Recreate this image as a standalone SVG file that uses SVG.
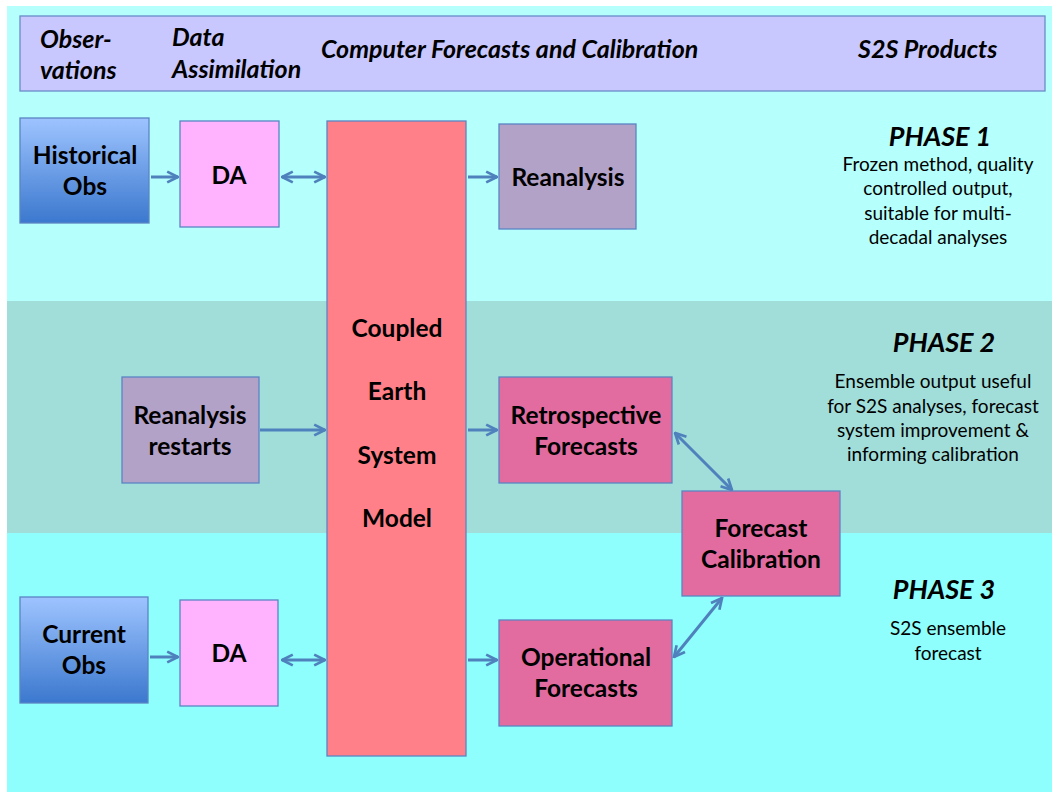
<svg xmlns="http://www.w3.org/2000/svg" width="1052" height="792" viewBox="0 0 1052 792">
<style>
.bx{stroke:#5B84C4;stroke-width:1.3}
.t{font-family:Lato,"Liberation Sans",sans-serif;font-weight:bold;font-size:24.5px;fill:#000;text-anchor:middle}
.h{font-family:Lato,"Liberation Sans",sans-serif;font-weight:bold;font-style:italic;font-size:25px;fill:#000}
.ph{font-family:Lato,"Liberation Sans",sans-serif;font-weight:bold;font-style:italic;font-size:27px;fill:#000;text-anchor:middle}
.d{font-family:Lato,"Liberation Sans",sans-serif;font-size:19px;fill:#000;text-anchor:middle}
.c{stroke:#4F81BD;stroke-width:3;fill:none}
</style>
<defs>
<linearGradient id="obs" x1="0" y1="0" x2="0" y2="1">
<stop offset="0" stop-color="#9EC4FF"/>
<stop offset="1" stop-color="#3B78CE"/>
</linearGradient>
<marker id="ah" viewBox="0 0 10 10" refX="9" refY="5" markerWidth="4.5" markerHeight="4.5" orient="auto-start-reverse" markerUnits="strokeWidth">
<path d="M1,1 L9,5 L1,9" fill="none" stroke="#4F81BD" stroke-width="2"/>
</marker>
</defs>
<rect x="0" y="0" width="1052" height="792" fill="#ffffff"/>
<rect x="7" y="6" width="1045" height="295" fill="#B5FFFC"/>
<rect x="7" y="301" width="1045" height="232" fill="#A1DEDA"/>
<rect x="7" y="533" width="1045" height="259" fill="#8EFFFC"/>

<g id="header">
<rect x="20" y="16" width="1025" height="75" fill="#C8C8FF" stroke="#6A8CC8" stroke-width="1.3"/>
<text class="h" x="40" y="48">Obser-</text>
<text class="h" x="40" y="79">vations</text>
<text class="h" x="172" y="46">Data</text>
<text class="h" x="172" y="78">Assimilation</text>
<text class="h" x="321" y="58">Computer Forecasts and Calibration</text>
<text class="h" x="858" y="58">S2S Products</text>
</g>

<g id="connectors">
<line class="c" x1="151" y1="177" x2="178" y2="177" marker-end="url(#ah)"/>
<line class="c" x1="282" y1="177" x2="325" y2="177" marker-start="url(#ah)" marker-end="url(#ah)"/>
<line class="c" x1="468" y1="177" x2="497" y2="177" marker-end="url(#ah)"/>
<line class="c" x1="260" y1="430" x2="325" y2="430" marker-end="url(#ah)"/>
<line class="c" x1="468" y1="430" x2="497" y2="430" marker-end="url(#ah)"/>
<line class="c" x1="675" y1="433" x2="732" y2="490" marker-start="url(#ah)" marker-end="url(#ah)"/>
<line class="c" x1="722" y1="598" x2="674" y2="657" marker-start="url(#ah)" marker-end="url(#ah)"/>
<line class="c" x1="150" y1="657" x2="178" y2="657" marker-end="url(#ah)"/>
<line class="c" x1="282" y1="660" x2="325" y2="660" marker-start="url(#ah)" marker-end="url(#ah)"/>
<line class="c" x1="468" y1="660" x2="497" y2="660" marker-end="url(#ah)"/>
</g>

<g id="historical-obs">
<rect class="bx" x="20" y="118" width="129" height="105" fill="url(#obs)"/>
<text class="t" x="85" y="164">Historical</text>
<text class="t" x="85" y="195">Obs</text>
</g>
<g id="da-1">
<rect class="bx" x="180" y="121" width="99" height="106" fill="#FFB3FF"/>
<text class="t" x="229" y="184">DA</text>
</g>
<g id="model">
<rect class="bx" x="327" y="121" width="139" height="635" fill="#FF8088"/>
<text class="t" x="397" y="337">Coupled</text>
<text class="t" x="397" y="400">Earth</text>
<text class="t" x="397" y="464">System</text>
<text class="t" x="397" y="527">Model</text>
</g>
<g id="reanalysis">
<rect class="bx" x="499" y="124" width="137" height="105" fill="#B3A2C8"/>
<text class="t" x="568" y="186">Reanalysis</text>
</g>
<g id="reanalysis-restarts">
<rect class="bx" x="122" y="377" width="137" height="106" fill="#B3A2C8"/>
<text class="t" x="190" y="424">Reanalysis</text>
<text class="t" x="190" y="455">restarts</text>
</g>
<g id="retrospective-forecasts">
<rect class="bx" x="499" y="377" width="173" height="106" fill="#E26C9F"/>
<text class="t" x="586" y="424">Retrospective</text>
<text class="t" x="586" y="455">Forecasts</text>
</g>
<g id="forecast-calibration">
<rect class="bx" x="682" y="491" width="158" height="105" fill="#E26C9F"/>
<text class="t" x="761" y="537">Forecast</text>
<text class="t" x="761" y="568">Calibration</text>
</g>
<g id="current-obs">
<rect class="bx" x="20" y="597" width="128" height="106" fill="url(#obs)"/>
<text class="t" x="84" y="643">Current</text>
<text class="t" x="84" y="674">Obs</text>
</g>
<g id="da-2">
<rect class="bx" x="180" y="600" width="98" height="106" fill="#FFB3FF"/>
<text class="t" x="229" y="662">DA</text>
</g>
<g id="operational-forecasts">
<rect class="bx" x="499" y="620" width="173" height="106" fill="#E26C9F"/>
<text class="t" x="586" y="666">Operational</text>
<text class="t" x="586" y="697">Forecasts</text>
</g>

<g id="phase-1">
<text class="ph" x="940" y="146">PHASE 1</text>
<text class="d" x="938" y="171">Frozen method, quality</text>
<text class="d" x="938" y="195">controlled output,</text>
<text class="d" x="938" y="220">suitable for multi-</text>
<text class="d" x="938" y="244">decadal analyses</text>
</g>
<g id="phase-2">
<text class="ph" x="944" y="352">PHASE 2</text>
<text class="d" x="933" y="388">Ensemble output useful</text>
<text class="d" x="933" y="413">for S2S analyses, forecast</text>
<text class="d" x="933" y="437">system improvement &amp;</text>
<text class="d" x="933" y="461">informing calibration</text>
</g>
<g id="phase-3">
<text class="ph" x="944" y="599">PHASE 3</text>
<text class="d" x="948" y="635">S2S ensemble</text>
<text class="d" x="948" y="660">forecast</text>
</g>
</svg>
